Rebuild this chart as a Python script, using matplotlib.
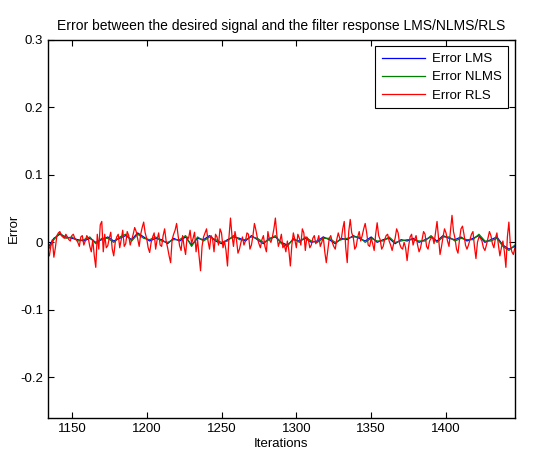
import matplotlib
matplotlib.use("Agg")
import matplotlib.pyplot as plt
import numpy as np
from matplotlib.ticker import FormatStrFormatter

plt.rcParams['font.family'] = ['Liberation Sans', 'DejaVu Sans']
plt.rcParams['axes.unicode_minus'] = False

# error values, in thousandths
# RLS: even iterations 1134..1446 and odd iterations 1135..1445
rls_even_milli = [
    -15, -5, -22, 10, 16, 8, 12, 4, 10, 6,
    0, 8, -4, 10, -6, 4, -37, -10, 31, 12,
    -5, 15, -20, 8, -8, 18, -2, 10, 4, 22,
    5, 12, 30, 6, -15, 8, -10, 14, -6, 20,
    -8, -30, 12, 28, -5, 10, -18, 6, -2, 15,
    4, -42, 8, 20, -10, 6, 12, -4, 14, 2,
    -35, 36, -6, 4, -10, 8, 2, 12, -4, 28,
    6, -8, 10, -14, 4, 8, 36, -6, 12, -4,
    2, -35, 14, -8, 6, 20, -12, 4, -4, 10,
    2, -6, 8, -30, 6, 0, -10, 14, 4, 31,
    -30, 34, 8, -6, 16, 10, 28, -4, 6, -12,
    29, 4, -6, 10, 2, -12, 6, 14, -8, 0,
    -27, 8, -4, 10, -14, 4, 12, -10, 6, -2,
    31, -18, 8, 14, -6, 40, 6, -16, 20, 12,
    -10, 4, 16, -24, 8, 2, -12, 6, 10, -8,
    14, -20, 2, -37, 30, -14, -8,
]
rls_odd_milli = [
    -20, 4, -8, 14, 10, 6, 8, 2, 12, 4,
    -6, 10, 2, 6, -14, -20, 12, 26, -14, -8,
    6, -10, 0, 12, 4, -6, 16, -4, 12, 16,
    -6, 22, 14, -8, 0, 14, 4, -4, 10, 2,
    -20, 4, 18, 10, -12, -6, 8, 18, 6, -14,
    -20, -6, 14, 2, 10, -14, 8, 20, -8, -12,
    8, 10, 16, -16, 0, -4, 14, -10, 10, 18,
    -2, 4, -6, 16, 0, 20, 10, 2, -8, -14,
    -12, -4, 4, 12, -4, 14, 8, -8, 6, -2,
    10, 0, -14, -12, 10, -6, 4, 6, 20, -8,
    16, 14, -10, 8, 2, 20, 14, -6, -2, 12,
    10, -10, 4, 12, -4, -2, 20, -2, -10, -8,
    -6, 12, 4, -4, -8, 16, -6, 2, 8, 14,
    6, -6, 20, 2, 18, 16, -10, 4, 24, -4,
    -4, 12, -6, 0, 6, -8, -4, 16, -2, 6,
    -4, -8, -14, 8, -4, -18,
]

# LMS / NLMS: every 4th iteration 1134..1446
it_lms = np.arange(1134, 1447, 4)
lms_milli = [
    -8, 6, 12, 8, 6, 4, 2, 6, 0, 4,
    8, 2, 6, 10, 4, 14, 8, 2, 6, 4,
    -2, 6, 2, 8, -4, 6, 4, 10, 2, -2,
    4, 8, 6, 2, 10, 4, -2, 6, 8, 0,
    -4, 4, 2, 6, 0, 2, 8, 4, -2, 6,
    4, 10, 6, 2, 8, 0, 4, 6, -2, 4,
    2, 6, 0, 4, 8, 2, 10, 6, 4, 8,
    2, 6, 10, 0, 4, 8, -4, -10, -6,
]
nlms_milli = [
    -12, 4, 14, 6, 8, 2, 4, 8, -2, 6,
    6, 0, 8, 12, 2, 12, 6, 4, 8, 2,
    0, 4, 4, 10, -6, 8, 2, 8, 4, 0,
    2, 10, 4, 4, 8, 6, 0, 4, 10, -2,
    -6, 6, 0, 8, 2, 0, 6, 6, 0, 4,
    6, 8, 8, 0, 6, 2, 2, 8, 0, 2,
    4, 4, 2, 2, 10, 0, 8, 8, 2, 6,
    4, 4, 12, 2, 2, 6, -6, -12, -4,
]

it_rls = np.arange(1134, 1447)
rls = np.empty(len(it_rls))
rls[0::2] = np.array(rls_even_milli) / 1000.0
rls[1::2] = np.array(rls_odd_milli) / 1000.0
lms = np.array(lms_milli) / 1000.0
nlms = np.array(nlms_milli) / 1000.0

fig = plt.figure(figsize=(5.38, 4.68), dpi=100)
ax = fig.add_axes([0.089, 0.107, 0.868, 0.808])

ax.plot(it_lms, lms, color=(0, 0, 1), lw=0.9, label='Error LMS')
ax.plot(it_lms, nlms, color=(0, 0.5, 0), lw=0.9, label='Error NLMS')
ax.plot(it_rls, rls, color=(1, 0, 0), lw=0.9, label='Error RLS')

ax.set_xlim(1134, 1446)
ax.set_ylim(-0.26, 0.3)
ax.set_xticks([1150, 1200, 1250, 1300, 1350, 1400])
ax.set_yticks([-0.2, -0.1, 0, 0.1, 0.2, 0.3])
ax.yaxis.set_major_formatter(FormatStrFormatter('%g'))
ax.tick_params(direction='in', top=True, right=True, labelsize=9.5, length=4, width=0.8)
for s in ax.spines.values():
    s.set_linewidth(1.0)

ax.set_xlabel('Iterations', fontsize=9.5, labelpad=2)
ax.set_ylabel('Error', fontsize=9.5, labelpad=0)
ax.set_title('Error between the desired signal and the filter response LMS/NLMS/RLS',
             fontsize=10, pad=7)

leg = ax.legend(loc='upper right', fontsize=9.5, fancybox=False, framealpha=1,
                edgecolor='black', handlelength=3.3, borderpad=0.5,
                labelspacing=0.45, borderaxespad=0.5, handletextpad=0.5)
leg.get_frame().set_linewidth(0.8)

fig.savefig('out.png', dpi=100)
